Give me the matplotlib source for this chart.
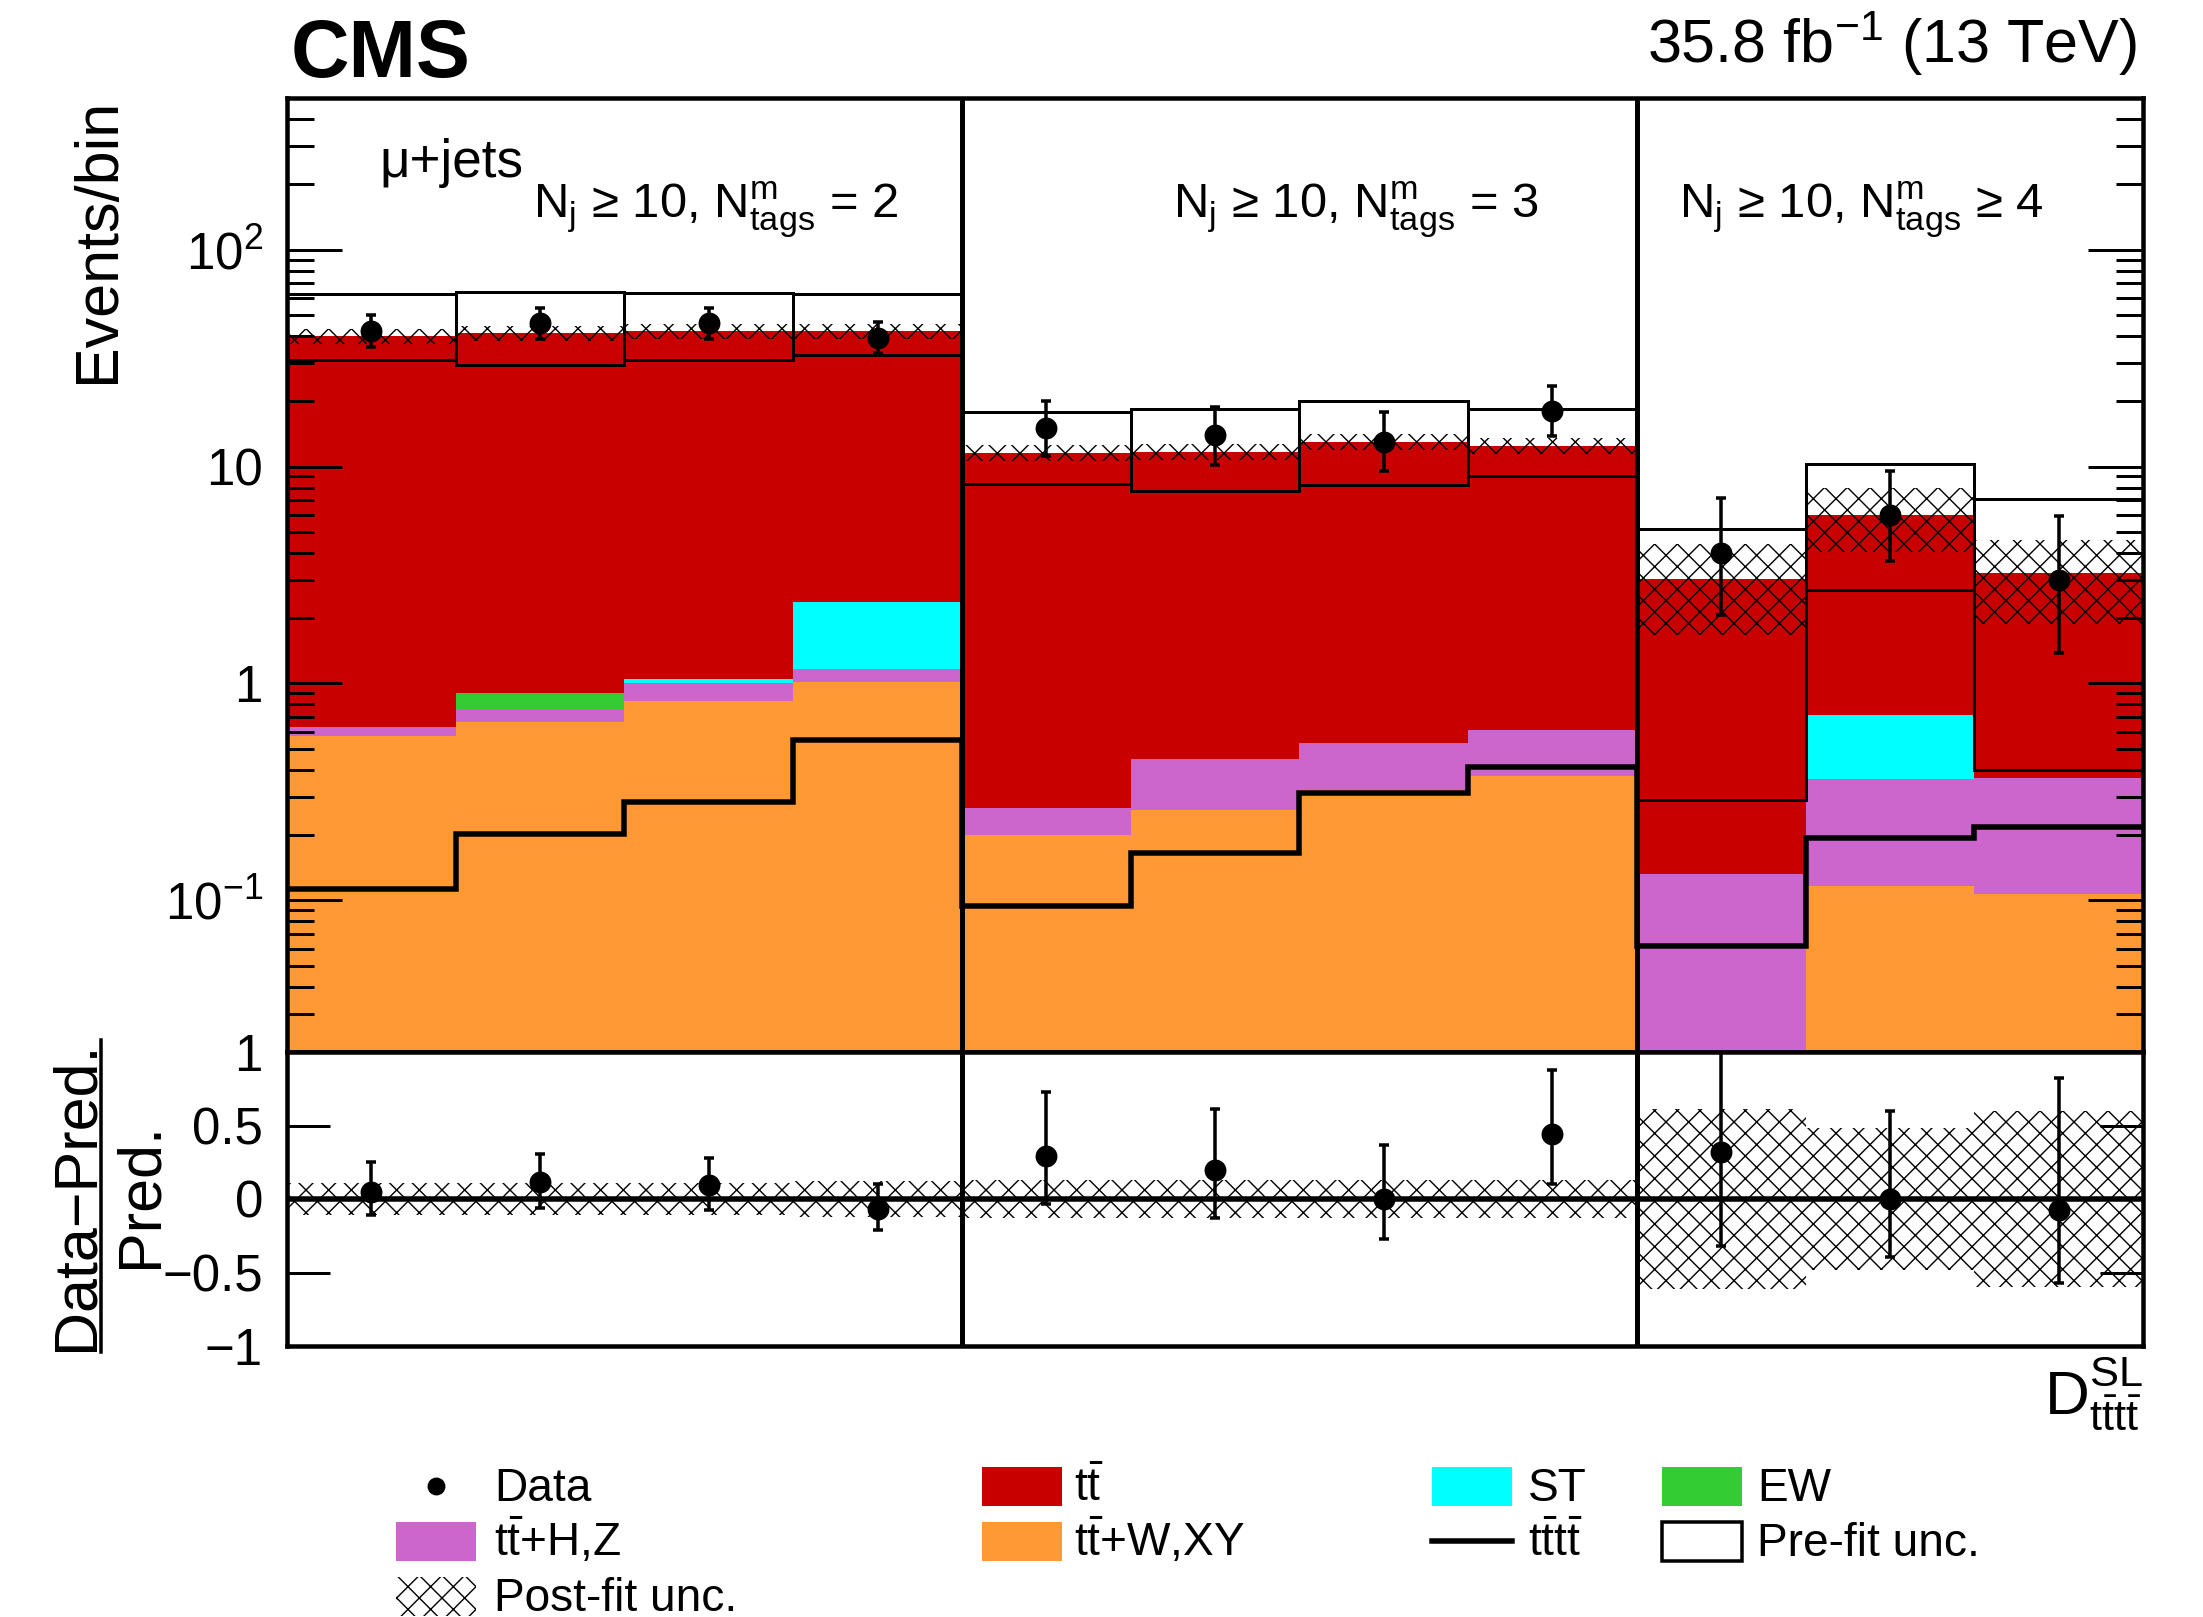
import numpy as np
import matplotlib
matplotlib.use('Agg')
import matplotlib.pyplot as plt
from matplotlib.patches import Rectangle
from matplotlib.lines import Line2D
from matplotlib.ticker import FixedLocator, FixedFormatter, LogLocator, NullFormatter
from matplotlib.transforms import blended_transform_factory

plt.rcParams['font.family'] = ['Liberation Sans', 'DejaVu Sans']
plt.rcParams['mathtext.fontset'] = 'custom'
plt.rcParams['mathtext.rm'] = 'Liberation Sans'
plt.rcParams['mathtext.it'] = 'Liberation Sans:italic'
plt.rcParams['mathtext.bf'] = 'Liberation Sans:bold'

# ---- data (11 bins of D_tttt^SL, 3 N_tags categories) ----
edges = np.arange(12)
ttw = np.array([0.573, 0.665, 0.832, 1.011, 0.201, 0.262, 0.322, 0.375, 0.0, 0.117, 0.107])
tthz = np.array([0.054, 0.096, 0.174, 0.153, 0.066, 0.187, 0.21, 0.234, 0.132, 0.245, 0.258])
ew = np.array([0, 0.138, 0, 0, 0, 0, 0, 0, 0, 0, 0])
st = np.array([0, 0, 0.037, 1.216, 0, 0, 0, 0, 0, 0.353, 0])
tt = np.array([39.4, 40.3, 41.0, 39.6, 11.33, 11.25, 12.47, 11.89, 2.9, 5.28, 2.87])
tttt = np.array([0.113, 0.203, 0.284, 0.547, 0.094, 0.166, 0.311, 0.41, 0.0619, 0.193, 0.218])

data = np.array([42, 46, 46, 39, 15, 14, 13, 18, 4, 6, 3])
data_err_lo = np.array([6.3, 7.2, 7.2, 5.8, 3.8, 3.8, 3.5, 4.2, 1.94, 2.35, 1.62])
data_err_hi = np.array([8.2, 7.7, 7.7, 7.3, 5.0, 4.9, 4.8, 5.5, 3.13, 3.57, 2.9])

prefit_lo = np.array([31.0, 29.4, 31.0, 32.7, 8.31, 7.74, 8.2, 9.02, 0.291, 2.70, 0.398])
prefit_hi = np.array([62.4, 64.0, 63.0, 62.4, 17.8, 18.4, 20.1, 18.4, 5.16, 10.3, 7.12])

postfit_unc = np.array([0.08, 0.08, 0.08, 0.08, 0.085, 0.085, 0.085, 0.085, 0.45, 0.33, 0.42])
ratio_unc = np.array([0.11, 0.11, 0.11, 0.12, 0.13, 0.13, 0.13, 0.13, 0.61, 0.48, 0.60])

categories = [r'N$_{\mathrm{j}}$ ≥ 10, N$^{\mathrm{m}}_{\mathrm{tags}}$ = 2',
              r'N$_{\mathrm{j}}$ ≥ 10, N$^{\mathrm{m}}_{\mathrm{tags}}$ = 3',
              r'N$_{\mathrm{j}}$ ≥ 10, N$^{\mathrm{m}}_{\mathrm{tags}}$ ≥ 4']
cat_x = [1.46, 5.25, 8.25]
boundaries = [4, 8]

c_tt = '#C80000'
c_tthz = '#CC66CC'
c_ttw = '#FF9933'
c_st = '#00FFFF'
c_ew = '#33CC33'

# ---- figure set up in pixel units ----
W, H = 2203, 1617
DPI = 136


def pt(px):
    return px * 72.0 / DPI


def fx(px):
    return px / W


def fy(py):
    return 1 - py / H


plt.rcParams['hatch.linewidth'] = pt(1.4)

fig = plt.figure(figsize=(W / DPI, H / DPI), dpi=DPI)
ax = fig.add_axes([fx(287), fy(1052), fx(2143) - fx(287), fy(98) - fy(1052)])
axr = fig.add_axes([fx(287), fy(1346), fx(2143) - fx(287), fy(1052) - fy(1346)])

centers = edges[:-1] + 0.5

# stacked backgrounds
base = np.zeros(len(tt))
for vals, col in [(ttw, c_ttw), (tthz, c_tthz), (ew, c_ew), (st, c_st), (tt, c_tt)]:
    top = base + vals
    ax.stairs(top, edges, baseline=base, fill=True, color=col, lw=0, zorder=1)
    base = top
total = base

# post-fit uncertainty
ax.bar(edges[:-1], 2 * postfit_unc * total, bottom=total * (1 - postfit_unc), width=1,
       align='edge', color='none', edgecolor='black', lw=0, hatch='xx', zorder=2)
# pre-fit uncertainty boxes
ax.bar(edges[:-1], prefit_hi - prefit_lo, bottom=prefit_lo, width=1, align='edge',
       fill=False, edgecolor='black', lw=pt(3), zorder=3)
# signal
ax.stairs(tttt, edges, baseline=None, color='black', lw=pt(5.5), zorder=4)
# data
ax.errorbar(centers, data, yerr=[data_err_lo, data_err_hi], fmt='o', color='black',
            ms=pt(20), elinewidth=pt(3.5), capsize=pt(5), capthick=pt(3.5), zorder=5)

ax.set_yscale('log')
ax.set_ylim(0.02, 500)
ax.set_xlim(0, 11)
ax.yaxis.set_major_locator(FixedLocator([0.1, 1, 10, 100]))
ax.yaxis.set_major_formatter(FixedFormatter([r'$10^{-1}$', '1', '10', r'$10^{2}$']))
ax.yaxis.set_minor_locator(LogLocator(base=10, subs=np.arange(2, 10)))
ax.yaxis.set_minor_formatter(NullFormatter())
ax.tick_params(axis='y', which='major', direction='in', length=pt(55), width=pt(3),
               left=True, right=True, labelsize=pt(51), pad=pt(24))
ax.tick_params(axis='y', which='minor', direction='in', length=pt(27), width=pt(3),
               left=True, right=True)
ax.tick_params(axis='x', which='both', bottom=False, top=False, labelbottom=False)

for b in boundaries:
    ax.axvline(b, color='black', lw=pt(5), zorder=6)
    axr.axvline(b, color='black', lw=pt(5), zorder=6)

tr = blended_transform_factory(ax.transData, ax.transAxes)
ax.text(0.55, 0.917, 'μ+jets', transform=tr, fontsize=pt(53), va='baseline', ha='left')
for xc, lab in zip(cat_x, categories):
    ax.text(xc, 0.874, lab, transform=tr, fontsize=pt(49), va='baseline', ha='left')

# ---- ratio panel ----
ratio = data / total - 1
ratio_lo = data_err_lo / total
ratio_hi = data_err_hi / total
axr.bar(edges[:-1], 2 * ratio_unc, bottom=-ratio_unc, width=1, align='edge',
        color='none', edgecolor='black', lw=0, hatch='xx', zorder=2)
axr.axhline(0, color='black', lw=pt(5.5), zorder=3)
axr.errorbar(centers, ratio, yerr=[ratio_lo, ratio_hi], fmt='o', color='black',
             ms=pt(20), elinewidth=pt(3.5), capsize=pt(5), capthick=pt(3.5), zorder=5)
axr.set_xlim(0, 11)
axr.set_ylim(-1, 1)
axr.yaxis.set_major_locator(FixedLocator([-1, -0.5, 0, 0.5, 1]))
axr.yaxis.set_major_formatter(FixedFormatter(['−1', '−0.5', '0', '0.5', '1']))
axr.tick_params(axis='y', which='major', direction='in', length=pt(43), width=pt(3),
                left=True, right=True, labelsize=pt(51), pad=pt(24))
axr.tick_params(axis='x', which='both', bottom=False, top=False, labelbottom=False)

for a in (ax, axr):
    for s in a.spines.values():
        s.set_linewidth(pt(4.5))
        s.set_zorder(7)

# ---- labels ----
fig.text(fx(291), fy(77), 'CMS', fontsize=pt(81), fontweight='bold', ha='left', va='baseline')
fig.text(fx(2137), fy(63), r'35.8 fb$^{-1}$ (13 TeV)', fontsize=pt(61), ha='right', va='baseline')
fig.text(fx(114), fy(98), 'Events/bin', fontsize=pt(61), rotation=90, rotation_mode='anchor',
         ha='right', va='baseline')
fig.text(fx(92), fy(1196), 'Data−Pred.', fontsize=pt(61), rotation=90, rotation_mode='anchor',
         ha='center', va='baseline')
fig.text(fx(156), fy(1195), 'Pred.', fontsize=pt(61), rotation=90, rotation_mode='anchor',
         ha='center', va='baseline')
fig.add_artist(Line2D([fx(101), fx(101)], [fy(1040), fy(1352)], color='black', lw=pt(3.5)))
fig.text(fx(2143), fy(1415), r'$\mathrm{D}^{\mathrm{SL}}_{\mathrm{t\bar{t}t\bar{t}}}$',
         fontsize=pt(62), ha='right', va='baseline')

# ---- legend ----
rows = [1486, 1541, 1596]
box_x = [396, 982, 1432, 1662]
text_x = [494, 1074, 1528, 1757]
box_w, box_h = 80, 39
entries = [
    (0, 0, 'data', None, 'Data'),
    (1, 0, 'fill', c_tt, r'$\mathrm{t\bar{t}}$'),
    (2, 0, 'fill', c_st, 'ST'),
    (3, 0, 'fill', c_ew, 'EW'),
    (0, 1, 'fill', c_tthz, r'$\mathrm{t\bar{t}}$+H,Z'),
    (1, 1, 'fill', c_ttw, r'$\mathrm{t\bar{t}}$+W,XY'),
    (2, 1, 'line', None, r'$\mathrm{t\bar{t}t\bar{t}}$'),
    (3, 1, 'box', None, 'Pre-fit unc.'),
    (0, 2, 'hatch', None, 'Post-fit unc.'),
]
for col, row, kind, color, label in entries:
    x0 = box_x[col]
    yc = rows[row]
    if kind == 'data':
        fig.add_artist(Line2D([fx(x0 + box_w / 2)], [fy(yc)], marker='o', color='black',
                              ms=pt(16), transform=fig.transFigure))
    elif kind == 'line':
        fig.add_artist(Line2D([fx(x0), fx(x0 + box_w)], [fy(yc), fy(yc)], color='black',
                              lw=pt(5.5), transform=fig.transFigure))
    else:
        kw = {}
        if kind == 'fill':
            kw = dict(facecolor=color, edgecolor='none')
        elif kind == 'box':
            kw = dict(facecolor='white', edgecolor='black', lw=pt(3.5))
        elif kind == 'hatch':
            kw = dict(facecolor='none', edgecolor='black', lw=0, hatch='xx')
        fig.add_artist(Rectangle((fx(x0), fy(yc + box_h / 2)), box_w / W, box_h / H,
                                 transform=fig.transFigure, **kw))
    fig.text(fx(text_x[col]), fy(yc + 15), label, fontsize=pt(46), ha='left', va='baseline')

fig.savefig('out.png', dpi=DPI)
